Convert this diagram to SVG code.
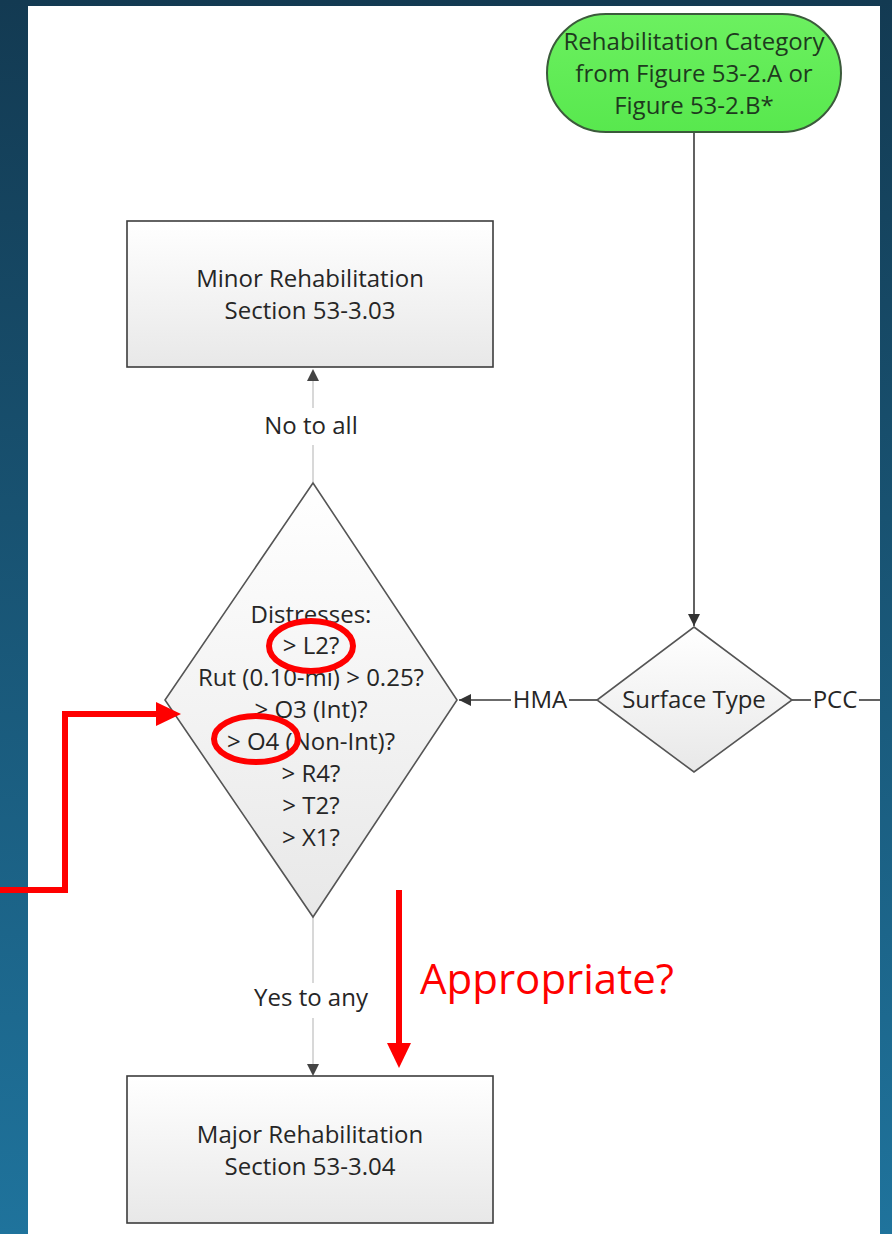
<svg xmlns="http://www.w3.org/2000/svg" width="892" height="1234" viewBox="0 0 892 1234">
<defs>
<linearGradient id="bg" x1="0" y1="0" x2="0" y2="1">
<stop offset="0" stop-color="#133a52"/>
<stop offset="1" stop-color="#1f739c"/>
</linearGradient>
<linearGradient id="boxfill" x1="0" y1="0" x2="0" y2="1">
<stop offset="0" stop-color="#ffffff"/>
<stop offset="1" stop-color="#e8e8e8"/>
</linearGradient>
<linearGradient id="greenfill" x1="0" y1="0" x2="0" y2="1">
<stop offset="0" stop-color="#6cf060"/>
<stop offset="1" stop-color="#58e84e"/>
</linearGradient>
<marker id="ahl" viewBox="0 0 10 10" refX="10" refY="5" markerWidth="14" markerHeight="12" markerUnits="userSpaceOnUse" orient="auto">
<path d="M0,0 L10,5 L0,10 z" fill="#333"/>
</marker>
</defs>
<style>
.t{font-family:"Open Sans",Lato,sans-serif;font-size:24px;fill:#262626;text-anchor:middle}
.g{fill:#1e3a1e}
.box{fill:url(#boxfill);stroke:#3c3c3c;stroke-width:1.6}
.dia{fill:url(#boxfill);stroke:#555;stroke-width:1.6}
.con{fill:none;stroke:#3a3a3a;stroke-width:1.6}
.lcon{fill:none;stroke:#cfcfcf;stroke-width:1.6}
.red{fill:none;stroke:#ff0000;stroke-width:6}
.rf{fill:#ff0000}
</style>
<rect x="0" y="0" width="892" height="1234" fill="url(#bg)"/>
<rect x="28" y="6" width="852" height="1228" fill="#ffffff"/>

<g id="connectors">
<line class="con" x1="694" y1="132" x2="694" y2="626" marker-end="url(#ahl)"/>
<line class="con" x1="597" y1="700" x2="569" y2="700"/>
<line class="con" x1="511" y1="700" x2="459" y2="700" marker-end="url(#ahl)"/>
<text class="t" x="540" y="708">HMA</text>
<line class="con" x1="792" y1="700" x2="811" y2="700"/>
<line class="con" x1="859" y1="700" x2="880" y2="700"/>
<text class="t" x="835" y="708">PCC</text>
<line class="lcon" x1="313" y1="482" x2="313" y2="445"/>
<line class="lcon" x1="313" y1="408" x2="313" y2="378"/>
<path d="M307,381 L313,369 L319,381 z" fill="#444"/>
<text class="t" x="311" y="434">No to all</text>
<line class="lcon" x1="313" y1="917" x2="313" y2="983"/>
<line class="lcon" x1="313" y1="1018" x2="313" y2="1064"/>
<path d="M307,1064 L313,1076 L319,1064 z" fill="#444"/>
<text class="t" x="311" y="1006">Yes to any</text>
</g>

<g id="start">
<rect x="547" y="14" width="294" height="118" rx="59" ry="59" fill="url(#greenfill)" stroke="#3b5a3b" stroke-width="2"/>
<text class="t g" x="694" y="50">Rehabilitation Category</text>
<text class="t g" x="694" y="82">from Figure 53-2.A or</text>
<text class="t g" x="694" y="114">Figure 53-2.B*</text>
</g>

<g id="surface">
<polygon class="dia" points="694,627 792,700 694,772 597,700"/>
<text class="t" x="694" y="708">Surface Type</text>
</g>

<g id="minor">
<rect class="box" x="127" y="221" width="366" height="146"/>
<text class="t" x="310" y="287">Minor Rehabilitation</text>
<text class="t" x="310" y="319">Section 53-3.03</text>
</g>

<g id="distresses">
<polygon class="dia" points="313,483 457,700 313,917 165,700"/>
<text class="t" x="311" y="623">Distresses:</text>
<text class="t" x="311" y="654">&gt; L2?</text>
<text class="t" x="311" y="686">Rut (0.10-mi) &gt; 0.25?</text>
<text class="t" x="311" y="718">&gt; O3 (Int)?</text>
<text class="t" x="311" y="750">&gt; O4 (Non-Int)?</text>
<text class="t" x="311" y="782">&gt; R4?</text>
<text class="t" x="311" y="814">&gt; T2?</text>
<text class="t" x="311" y="846">&gt; X1?</text>
</g>

<g id="major">
<rect class="box" x="127" y="1076" width="366" height="147"/>
<text class="t" x="310" y="1143">Major Rehabilitation</text>
<text class="t" x="310" y="1175">Section 53-3.04</text>
</g>

<g id="annotations">
<ellipse class="red" cx="311" cy="646" rx="42" ry="25"/>
<ellipse class="red" cx="256" cy="739" rx="42" ry="23"/>
<polyline class="red" stroke-width="7" points="0,890 65,890 65,714 158,714"/>
<path class="rf" d="M156,702 L181,714 L156,726 z"/>
<line class="red" x1="399" y1="890" x2="399" y2="1045"/>
<path class="rf" d="M387,1043 L399,1068 L411,1043 z"/>
<text x="420" y="994" font-family="'Open Sans',sans-serif" font-size="42" fill="#ff0000">Appropriate?</text>
</g>
</svg>
